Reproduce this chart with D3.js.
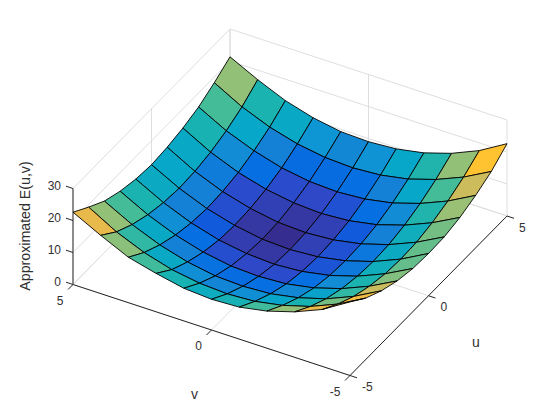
<!DOCTYPE html>
<html>
<head>
<meta charset="utf-8">
<script src="https://cdn.jsdelivr.net/npm/d3@7"></script>
<style>
  body { margin: 0; background: #fff; }
  text { font-family: "Liberation Sans", Arial, sans-serif; fill: #303030; }
</style>
</head>
<body>
<svg id="drawing_region"></svg>
<script>
// grid of the surface
const uValues = [-5, -4, -3, -2, -1, 0, 1, 2, 3, 4, 5];
const vValues = [5, 4, 3, 2, 1, 0, -1, -2, -3, -4, -5];

// height at each grid point, one row per v, one column per u
const zValues = [
  [22.6, 19.2, 16.1, 14.2, 13.0, 12.5, 13.0, 14.0, 15.6, 18.2, 21.3],
  [18.2, 14.3, 11.6, 9.7, 8.5, 8.0, 8.3, 9.3, 11.0, 13.5, 17.0],
  [14.2, 10.7, 8.1, 6.2, 5.0, 4.5, 4.8, 5.8, 7.6, 10.0, 13.3],
  [12.0, 8.2, 5.6, 3.7, 2.5, 2.1, 2.4, 3.4, 5.1, 7.6, 10.8],
  [10.2, 6.8, 4.1, 2.2, 1.1, 0.6, 0.9, 2.0, 3.7, 6.2, 9.3],
  [9.6, 6.3, 3.7, 1.8, 0.6, 0.2, 0.5, 1.5, 3.3, 5.8, 9.0],
  [10.0, 6.8, 4.2, 2.3, 1.2, 0.8, 1.1, 2.1, 3.9, 6.4, 9.6],
  [11.6, 8.4, 5.8, 3.9, 2.8, 2.4, 2.7, 3.7, 5.5, 8.0, 11.2],
  [14.2, 10.9, 8.3, 6.5, 5.4, 5.0, 5.3, 6.4, 8.2, 10.7, 13.9],
  [17.8, 14.5, 11.9, 10.1, 9.0, 8.6, 8.9, 10.0, 11.8, 14.3, 17.6],
  [23.0, 19.2, 16.5, 14.6, 13.5, 13.2, 13.4, 14.5, 16.4, 18.9, 22.6]
];

// colour value of each face (percent along the colour map)
const faceColors = [
  [80, 64, 54, 46, 40, 38, 39, 45, 54, 64],
  [63, 50, 39, 29, 25, 25, 23, 28, 38, 46],
  [53, 39, 25, 18, 12, 8, 7, 18, 25, 39],
  [45, 29, 19, 8, 4, 3, 4.5, 7, 17, 31],
  [41, 26, 17, 6, 3, 1, 3, 6, 17, 27],
  [44, 29, 18, 7, 5, 4.5, 4.5, 9, 18, 30],
  [53, 37, 27, 18, 10, 9, 12, 18, 25, 38],
  [64, 45, 36, 28, 22, 21, 25, 28, 38, 47],
  [80, 60, 50, 46, 42, 40, 42, 47, 54, 64],
  [84, 82, 73, 62, 58, 58, 60, 65, 74, 88]
];

const uTicks = [-5, 0, 5];
const vTicks = [-5, 0, 5];
const zTicks = [0, 10, 20, 30];

const colorStops = [0, 3, 6, 12.5, 18, 25, 31, 38, 46, 54, 64, 73, 80, 88, 100];
const colorRange = ["#352a87", "#3537a3", "#2f48c8", "#0f5cdd", "#066fe2", "#1481d6", "#0e96d4", "#06a7c8",
  "#1bb3af", "#45bc98", "#93c077", "#c8bc5e", "#e8b94b", "#ffc331", "#f9fb0e"];

const svg = d3.select("#drawing_region").attr("width", 560).attr("height", 420);

// screen offset of each data axis, counted from the near floor corner
const origin = { x: 350, y: 375.5 };
const uX = d3.scaleLinear().domain([-5, 5]).range([0, 157]);
const uY = d3.scaleLinear().domain([-5, 5]).range([0, -159.5]);
const vX = d3.scaleLinear().domain([-5, 5]).range([0, -277]);
const vY = d3.scaleLinear().domain([-5, 5]).range([0, -91]);
const zY = d3.scaleLinear().domain([0, 30]).range([0, -96]);
const color = d3.scaleLinear().domain(colorStops).range(colorRange);

const project = (u, v, z) => [
  origin.x + uX(u) + vX(v),
  origin.y + uY(u) + vY(v) + zY(z)
];
const line = d3.line();

// how close a point is to the camera, elevation about 35 degrees
const nearness = (u, v, z) => (uY(u) + vY(v)) * 1.43 - zY(z) * 0.7;

const seg = (a, b, stroke, width, parent) => parent.append("path")
  .attr("d", line([a, b]))
  .attr("fill", "none")
  .attr("stroke", stroke)
  .attr("stroke-width", width);

// ---- back walls and floor grid
const grid = svg.append("g");
const gridColor = "#dedede";
zTicks.forEach(z => {
  seg(project(-5, 5, z), project(5, 5, z), gridColor, 1, grid);
  seg(project(5, 5, z), project(5, -5, z), gridColor, 1, grid);
});
uTicks.forEach(u => {
  seg(project(u, -5, 0), project(u, 5, 0), gridColor, 1, grid);
  seg(project(u, 5, 0), project(u, 5, 30), gridColor, 1, grid);
});
vTicks.forEach(v => {
  seg(project(-5, v, 0), project(5, v, 0), gridColor, 1, grid);
  seg(project(5, v, 0), project(5, v, 30), gridColor, 1, grid);
});

// ---- axes
const axes = svg.append("g");
const axisColor = "#262626";
seg(project(-5, 5, 0), project(-5, -5, 0), axisColor, 1, axes);
seg(project(-5, -5, 0), project(5, -5, 0), axisColor, 1, axes);
seg(project(-5, 5, 0), project(-5, 5, 30), "#8c8c8c", 2, axes);

uTicks.forEach(u => {
  const p = project(u, -5, 0);
  seg(p, [p[0] + 7, p[1] + 2.3], axisColor, 1, axes);
  axes.append("text").attr("x", p[0] + 12).attr("y", p[1] + 15.5)
    .attr("font-size", 12).attr("text-anchor", "start").text(u);
});
vTicks.forEach(v => {
  const p = project(-5, v, 0);
  seg(p, [p[0] - 5, p[1] + 5], axisColor, 1, axes);
  axes.append("text").attr("x", p[0] - 9.5).attr("y", p[1] + 20)
    .attr("font-size", 12).attr("text-anchor", "end").text(v);
});
zTicks.forEach(z => {
  const p = project(-5, 5, z);
  seg(p, [p[0] - 7, p[1] - 2.3], axisColor, 1, axes);
  axes.append("text").attr("x", p[0] - 12).attr("y", p[1] + 1)
    .attr("font-size", 12).attr("text-anchor", "end").text(z);
});

svg.append("text").attr("x", 476).attr("y", 347).attr("font-size", 14)
  .attr("text-anchor", "middle").text("u");
svg.append("text").attr("x", 194.5).attr("y", 399).attr("font-size", 14)
  .attr("text-anchor", "middle").text("v");
svg.append("text").attr("transform", "translate(30,226) rotate(-90)")
  .attr("font-size", 14.2).attr("text-anchor", "middle").text("Approximated E(u,v)");

// ---- surface, painted back to front
const faces = [];
faceColors.forEach((row, i) => row.forEach((c, j) => {
  const corners = [[i, j], [i, j + 1], [i + 1, j + 1], [i + 1, j]]
    .map(([a, b]) => [uValues[b], vValues[a], zValues[a][b]]);
  faces.push({
    c: c,
    points: corners.map(p => project(p[0], p[1], p[2])),
    depth: d3.mean(corners, p => nearness(p[0], p[1], p[2]))
  });
}));

svg.append("g").selectAll("path")
  .data(faces.sort((a, b) => a.depth - b.depth))
  .join("path")
  .attr("d", d => line(d.points) + "Z")
  .attr("fill", d => color(d.c))
  .attr("stroke", "#000")
  .attr("stroke-width", 0.9)
  .attr("stroke-linejoin", "round");
</script>
</body>
</html>
